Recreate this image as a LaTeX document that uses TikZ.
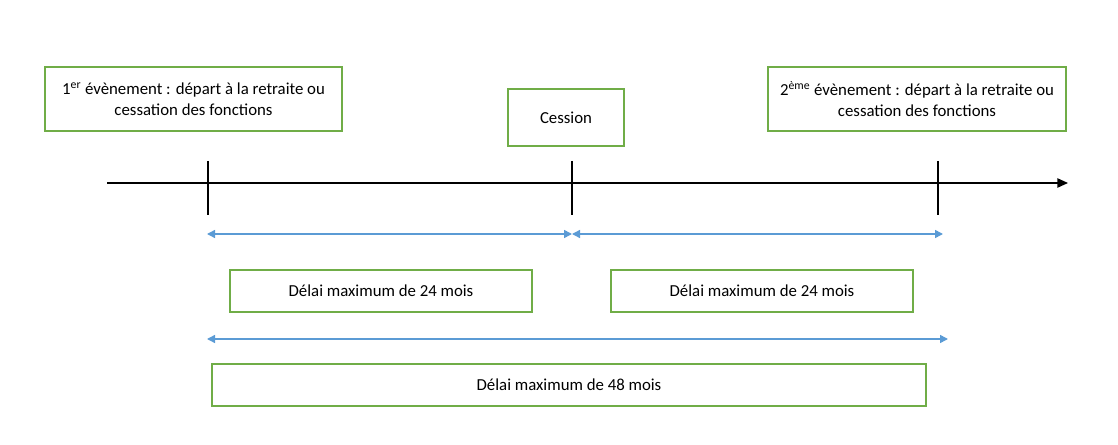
\documentclass[tikz,border=0pt]{standalone}
\usepackage{fontspec}
\setmainfont{Carlito}
\usetikzlibrary{arrows.meta}
\definecolor{boxgreen}{HTML}{70AD47}
\definecolor{arrblue}{HTML}{5B9BD5}
\begin{document}
\begin{tikzpicture}[x=0.75pt,y=-0.75pt,
  gbox/.style={draw=boxgreen,line width=1pt,rectangle,inner sep=0pt,align=center,font=\fontsize{12.6}{15.5}\selectfont},
  axisline/.style={draw=black,line width=1.1pt},
  tickline/.style={draw=black,line width=1.1pt},
  spanarrow/.style={draw=arrblue,line width=1.1pt,{Triangle[length=6pt,width=6pt]}-{Triangle[length=6pt,width=6pt]}}]
\useasboundingbox (0,0) rectangle (1118,445);
% boxes
\node[gbox,minimum width=297*0.75pt,minimum height=64*0.75pt] (e1) at (193.5,99)
  {1\textsuperscript{er} évènement : départ à la retraite ou\\cessation des fonctions};
\node[gbox,minimum width=116*0.75pt,minimum height=57*0.75pt] (ces) at (566,117.5) {Cession};
\node[gbox,minimum width=298*0.75pt,minimum height=64*0.75pt] (e2) at (917,99)
  {2\textsuperscript{ème} évènement : départ à la retraite ou\\cessation des fonctions};
\node[gbox,minimum width=302*0.75pt,minimum height=42*0.75pt] (d1) at (381,291) {Délai maximum de 24 mois};
\node[gbox,minimum width=302*0.75pt,minimum height=42*0.75pt] (d2) at (762,291) {Délai maximum de 24 mois};
\node[gbox,minimum width=714*0.75pt,minimum height=42*0.75pt] (d3) at (569,385) {Délai maximum de 48 mois};
% timeline
\coordinate (ts) at (107,183);
\coordinate (te) at (1068,183);
\draw[axisline,-{Triangle[length=8pt,width=7pt]}] (ts) -- (te);
\coordinate (t1a) at (208,161); \coordinate (t1b) at (208,215);
\coordinate (t2a) at (572,161); \coordinate (t2b) at (572,215);
\coordinate (t3a) at (938,161); \coordinate (t3b) at (938,215);
\draw[tickline] (t1a) -- (t1b);
\draw[tickline] (t2a) -- (t2b);
\draw[tickline] (t3a) -- (t3b);
% span arrows
\coordinate (a1) at (207,234);
\coordinate (a2) at (572,234);
\coordinate (a3) at (943,234);
\draw[spanarrow] (a1) -- (a2);
\draw[spanarrow] (a2) -- (a3);
\coordinate (b1) at (207,339);
\coordinate (b2) at (948,339);
\draw[spanarrow] (b1) -- (b2);
\end{tikzpicture}
\end{document}
